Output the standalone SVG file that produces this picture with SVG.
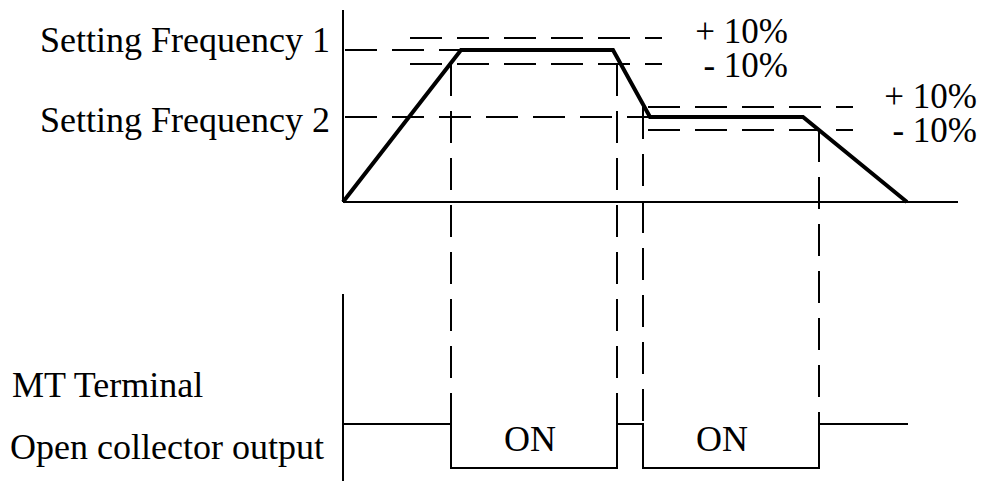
<svg xmlns="http://www.w3.org/2000/svg" width="985" height="481" viewBox="0 0 985 481">
<style>
.t{font-family:"Liberation Serif","Times New Roman",serif;font-size:36px;fill:#000}
.p{font-family:"Liberation Serif","Times New Roman",serif;font-size:35px;fill:#000}
.s{stroke:#000;stroke-width:2;fill:none}
.d{stroke:#000;stroke-width:2;fill:none;stroke-dasharray:32 15}
.k{stroke:#000;stroke-width:4;fill:none;stroke-linejoin:miter}
</style>
<rect width="985" height="481" fill="#fff"/>
<g id="labels">
<text class="t" x="40" y="52">Setting Frequency 1</text>
<text class="t" x="40" y="132">Setting Frequency 2</text>
<text class="t" x="12" y="397">MT Terminal</text>
<text class="t" x="10" y="459">Open collector output</text>
<text class="p" x="788" y="43" text-anchor="end">+ 10%</text>
<text class="p" x="788" y="77" text-anchor="end">- 10%</text>
<text class="p" x="977" y="108" text-anchor="end">+ 10%</text>
<text class="p" x="977" y="142" text-anchor="end">- 10%</text>
<text class="t" x="530" y="451" text-anchor="middle">ON</text>
<text class="t" x="722" y="451" text-anchor="middle">ON</text>
</g>
<g id="axes">
<line class="s" x1="343" y1="10" x2="343" y2="202"/>
<line class="s" x1="343" y1="202" x2="958" y2="202"/>
<line class="s" x1="343" y1="294" x2="343" y2="481"/>
</g>
<g id="levels">
<line class="d" x1="345" y1="50" x2="460" y2="50"/>
<line class="d" x1="410" y1="38" x2="662" y2="38"/>
<line class="d" x1="410" y1="64" x2="662" y2="64"/>
<line class="d" x1="345" y1="117" x2="650" y2="117"/>
<line class="d" x1="648" y1="107" x2="853" y2="107"/>
<line class="d" x1="648" y1="130" x2="853" y2="130"/>
</g>
<g id="markers">
<line class="d" x1="451" y1="64" x2="451" y2="424"/>
<line class="d" x1="617" y1="64" x2="617" y2="424"/>
<line class="d" x1="643" y1="107" x2="643" y2="424"/>
<line class="d" x1="819" y1="130" x2="819" y2="424"/>
</g>
<g id="frequency">
<path class="k" d="M343,202 L461,50 L613,50 L650,117 L803,117 L907,202"/>
</g>
<g id="output">
<path class="s" d="M343,424 H451 V468 H617 V424 H643 V468 H819 V424 H908"/>
</g>
</svg>
